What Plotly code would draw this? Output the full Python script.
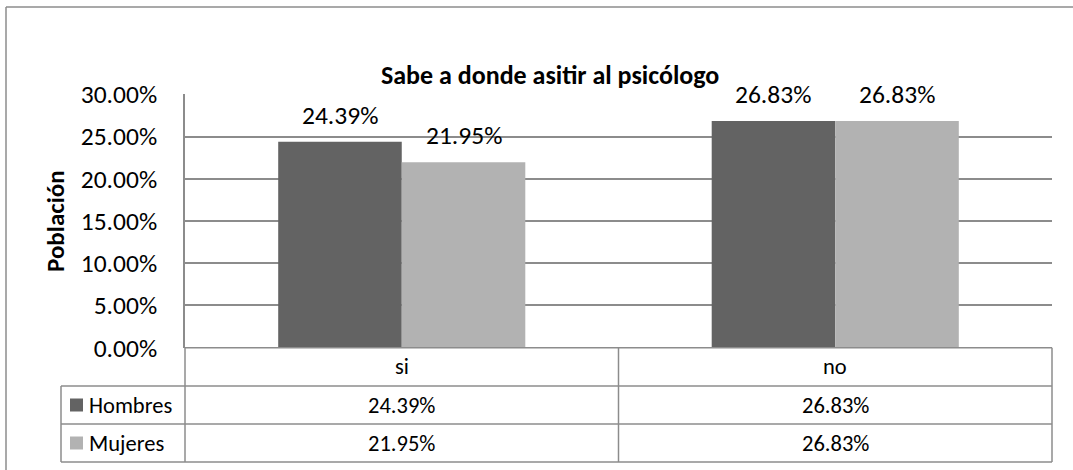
import plotly.graph_objects as go

categories = ["si", "no"]
series_names = ["Hombres", "Mujeres"]
hombres = [0.2439, 0.2683]
mujeres = [0.2195, 0.2683]
series_values = [hombres, mujeres]
colors = ["#636363", "#b2b2b2"]
y_ticks = [0, 0.05, 0.10, 0.15, 0.20, 0.25, 0.30]
y_tick_labels = ["0.00%", "5.00%", "10.00%", "15.00%", "20.00%", "25.00%", "30.00%"]
title = "Sabe a donde asitir al psicólogo"
y_title = "Población"

W, H = 1073, 470
FONT = "Calibri, Carlito, Lato, sans-serif"
LINE = "#8c8c8c"
BIG = 25.5
TAB = 22.5

def px(x):
    return x / W

def py(y):
    return 1 - y / H

PL, PR, PT, PB = 185, 1052, 94.3, 347.7
R1, R2, R3 = 386, 424, 462
TL = 61
MID = (PL + PR) / 2

fig = go.Figure()
for name, vals, col in zip(series_names, series_values, colors):
    fig.add_trace(go.Bar(x=categories, y=vals, name=name, marker=dict(color=col, line=dict(width=0)),
                         showlegend=False))

fig.update_layout(
    width=W, height=H, margin=dict(l=0, r=0, t=0, b=0, pad=0, autoexpand=False),
    paper_bgcolor="white", plot_bgcolor="white",
    barmode="group", bargap=0.43, bargroupgap=0,
    font=dict(family=FONT, color="black"),
    xaxis=dict(domain=[px(PL), px(PR)], showticklabels=False, showgrid=False, zeroline=False,
               showline=False, ticks="", automargin=False),
    yaxis=dict(domain=[py(PB), py(PT)], range=[0, 0.30], tickvals=y_ticks, ticktext=y_tick_labels,
               showgrid=True, gridcolor=LINE, gridwidth=1.5, zeroline=False, showline=True,
               linecolor=LINE, linewidth=1.5, ticks="", ticklabelstandoff=21, automargin=False,
               tickfont=dict(size=BIG, family=FONT)),
)

shapes = []
def hline(x0, x1, y):
    shapes.append(dict(type="line", xref="paper", yref="paper", x0=px(x0), x1=px(x1), y0=py(y), y1=py(y),
                       line=dict(color=LINE, width=1.5)))
def vline(x, y0, y1):
    shapes.append(dict(type="line", xref="paper", yref="paper", x0=px(x), x1=px(x), y0=py(y0), y1=py(y1),
                       line=dict(color=LINE, width=1.5)))

# outer chart frame (extends beyond the view on the right and bottom)
hline(6, W, 7)
vline(6, 7, H)

# data table
hline(PL, PR, PB)
for y in (R1, R2, R3):
    hline(TL, PR, y)
vline(TL, R1, R3)
vline(PL, PB, R3)
vline(MID, PB, R3)
vline(PR, PB, R3)

annotations = []
rows = [(R1, R2), (R2, R3)]
for (ya, yb), name, vals, col in zip(rows, series_names, series_values, colors):
    yc = (ya + yb) / 2
    shapes.append(dict(type="rect", xref="paper", yref="paper", x0=px(70), x1=px(83),
                       y0=py(yc - 6.5), y1=py(yc + 6.5), fillcolor=col, line=dict(width=0)))
    annotations.append(dict(x=px(87), y=py(yc), xref="paper", yref="paper", text=name, showarrow=False,
                            xanchor="left", yanchor="middle", font=dict(size=TAB, family=FONT)))
    for cat, v in zip(categories, vals):
        annotations.append(dict(x=cat, y=py(yc), xref="x", yref="paper", text=f"{v*100:.2f}%",
                                showarrow=False, xanchor="center", yanchor="middle",
                                font=dict(size=TAB, family=FONT)))

for cat in categories:
    annotations.append(dict(x=cat, y=py((PB + R1) / 2), xref="x", yref="paper", text=cat, showarrow=False,
                            xanchor="center", yanchor="middle", font=dict(size=TAB, family=FONT)))

# data labels
bar_w = (PR - PL) / len(categories) * (1 - 0.43) / 2
for i, (vals, shift) in enumerate(zip(series_values, [-bar_w / 2, bar_w / 2])):
    for cat, v in zip(categories, vals):
        annotations.append(dict(x=cat, y=v, xref="x", yref="y", text=f"{v*100:.2f}%", showarrow=False,
                                xanchor="center", yanchor="middle", xshift=shift, yshift=26.5,
                                font=dict(size=BIG, family=FONT)))

annotations.append(dict(x=px(550), y=py(75), xref="paper", yref="paper", text=f"<b>{title}</b>",
                        showarrow=False, xanchor="center", yanchor="middle", font=dict(size=26, family=FONT)))
annotations.append(dict(x=px(55), y=py((PT + PB) / 2), xref="paper", yref="paper", text=f"<b>{y_title}</b>",
                        showarrow=False, textangle=-90, xanchor="center", yanchor="middle",
                        font=dict(size=25, family=FONT)))

fig.update_layout(shapes=shapes, annotations=annotations)
fig.write_html("out.html", config={"displayModeBar": False},
               post_script="document.body.style.margin='0';document.body.style.overflow='hidden';")
